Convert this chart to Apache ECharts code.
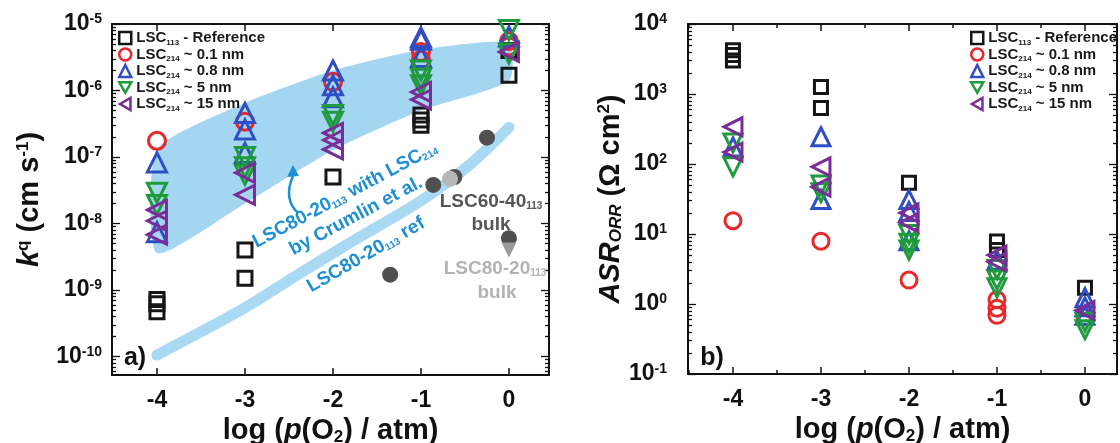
<!DOCTYPE html>
<html>
<head>
<meta charset="utf-8">
<script src="https://cdn.jsdelivr.net/npm/echarts@6/dist/echarts.min.js"></script>
<style>
  html, body { margin: 0; padding: 0; background: #fff; }
  #chart { width: 1120px; height: 443px; }
</style>
</head>
<body>
<div id="chart"></div>
<script>
// x = log(pO2 / atm)
// panel a) surface exchange coefficient k^q (cm/s)
const kRef = [[-4, 7.2e-10], [-4, 6.2e-10], [-4, 4.7e-10], [-3, 4.0e-9], [-3, 1.5e-9], [-2, 5.0e-8],
  [-1, 4.3e-7], [-1, 3.6e-7], [-1, 3.0e-7], [0, 4.0e-6], [0, 1.7e-6]]
const k01 = [[-4, 1.75e-7], [-3, 3.4e-7], [-2, 1.35e-6], [-1, 3.8e-6], [-1, 2.9e-6], [0, 5.5e-6], [0, 4.6e-6]]
const k08 = [[-4, 8.3e-8], [-4, 7.4e-9], [-3, 4.6e-7], [-3, 2.6e-7], [-3, 1.15e-7], [-2, 2.0e-6], [-2, 1.2e-6],
  [-2, 7.9e-7], [-1, 6.3e-6], [-1, 5.8e-6], [-1, 3.2e-6], [0, 6.5e-6]]
const k5 = [[-4, 2.9e-8], [-4, 1.9e-8], [-3, 1.0e-7], [-3, 7.0e-8], [-3, 5.4e-8], [-2, 4.3e-7], [-2, 3.4e-7],
  [-1, 2.0e-6], [-1, 1.5e-6], [-1, 1.2e-6], [0, 8.1e-6], [0, 3.6e-6]]
const k15 = [[-4, 1.6e-8], [-4, 1.1e-8], [-4, 6.8e-9], [-3, 5.8e-8], [-3, 2.7e-8], [-2, 2.3e-7], [-2, 1.8e-7],
  [-2, 1.3e-7], [-1, 9.5e-7], [-1, 7.3e-7], [0, 3.8e-6]]
const kBulk6040 = [[-1.35, 1.7e-9], [-0.86, 3.8e-8], [-0.62, 5.0e-8], [-0.25, 1.95e-7], [0, 6.0e-9]]
const kBulk8020 = [[-0.67, 4.7e-8]]
const kBulk8020Tri = [[0, 4.0e-9]]
const refBand = [[-4, 1.05e-10], [-3, 5.4e-10], [-2.4, 1.7e-9], [-1.8, 5.2e-9], [-1, 2.2e-8], [-0.45, 7.6e-8], [0, 2.8e-7]]
const crumlinUpper = [[-4, 1.29e-7], [-3, 6.5e-7], [-2, 2.0e-6], [-1, 4.1e-6], [0, 5.2e-6]]
const crumlinLower = [[-4, 3.6e-9], [-3, 2.0e-8], [-2, 1.26e-7], [-1, 5.0e-7], [0, 1.4e-6]]

// panel b) ASR_ORR (Ohm cm2)
const asrRef = [[-4, 4200], [-4, 3600], [-4, 3000], [-3, 1260], [-3, 630], [-2, 54], [-1, 7.8], [-1, 5.9], [0, 1.7]]
const asr01 = [[-4, 15.5], [-3, 7.9], [-2, 2.2], [-1, 1.15], [-1, 0.87], [-1, 0.69], [0, 0.65]]
const asr08 = [[-4, 175], [-3, 245], [-3, 31], [-2, 31], [-2, 21], [-2, 8], [-1, 4.2], [0, 1.23], [0, 0.91], [0, 0.69]]
const asr5 = [[-4, 200], [-4, 91], [-3, 50], [-3, 39], [-2, 9.8], [-2, 7.4], [-2, 5.9], [-1, 3.1], [-1, 2.2], [-1, 1.7],
  [0, 0.55], [0, 0.43]]
const asr15 = [[-4, 340], [-4, 148], [-3, 91], [-3, 47], [-2, 20], [-2, 14.5], [-1, 5.0], [-1, 4.0], [0, 0.81]]

const xTicks = [-4, -3, -2, -1, 0]
const xMinorTicks = [-4.5, -3.5, -2.5, -1.5, -0.5]
const kDecades = [-10, -9, -8, -7, -6, -5]
const asrDecades = [-1, 0, 1, 2, 3, 4]
const sampleNames = ['LSC113 - Reference', 'LSC214 ~ 0.1 nm', 'LSC214 ~ 0.8 nm', 'LSC214 ~ 5 nm', 'LSC214 ~ 15 nm']

const FONT = '"Liberation Sans", Arial, sans-serif'
const INK = '#111'
const colors = ['#161616', '#e8282a', '#2f4ec4', '#1f9a3c', '#7b2d97']
const symbols = ['rect', 'circle', 'triangle', 'triangle', 'triangle']
const rotations = [0, 0, 0, 180, 90]
const legendIcons = ['rect', 'circle', 'triangle', 'path://M0,0L10,0L5,8.66Z', 'path://M8.66,0L8.66,10L0,5Z']

const lg = v => Math.log10(v)
const toLog = arr => arr.map(p => [p[0], lg(p[1])])

function minors(lo, hi) {
  const out = []
  for (let n = Math.floor(lo); n < Math.ceil(hi); n++) {
    for (let k = 2; k <= 9; k++) {
      const v = n + Math.log10(k)
      if (v > lo && v < hi) out.push(v)
    }
  }
  return out
}

const supRich = {
  b: { fontSize: 23, fontWeight: 'bold', fontFamily: FONT, color: INK },
  s: { fontSize: 14, fontWeight: 'bold', fontFamily: FONT, color: INK, verticalAlign: 'top' }
}
const titleRich = {
  t: { fontSize: 29, fontWeight: 'bold', fontFamily: FONT, color: INK },
  i: { fontSize: 29, fontWeight: 'bold', fontStyle: 'italic', fontFamily: FONT, color: INK },
  sub: { fontSize: 17, fontWeight: 'bold', fontFamily: FONT, color: INK, verticalAlign: 'bottom' },
  isub: { fontSize: 17, fontWeight: 'bold', fontStyle: 'italic', fontFamily: FONT, color: INK, verticalAlign: 'bottom' },
  sup: { fontSize: 17, fontWeight: 'bold', fontFamily: FONT, color: INK, verticalAlign: 'top' }
}

function xAx(grid, min, max, pos, ticks, len, labels, name) {
  return {
    type: 'value', gridIndex: grid, min, max, position: pos,
    axisLine: { show: true, onZero: false, lineStyle: { color: INK, width: 2 } },
    axisTick: { show: true, inside: true, length: len, customValues: ticks, lineStyle: { color: INK, width: 1.5 } },
    axisLabel: labels ? {
      show: true, customValues: ticks, margin: 14, color: INK,
      fontSize: 23, fontWeight: 'bold', fontFamily: FONT,
      formatter: v => String(Math.round(v))
    } : { show: false },
    splitLine: { show: false },
    name: name || '', nameLocation: 'middle', nameGap: 38,
    nameTextStyle: { rich: titleRich }
  }
}

function yAx(grid, min, max, pos, ticks, len, labels, margin, name, gap) {
  return {
    type: 'value', gridIndex: grid, min, max, position: pos,
    axisLine: { show: true, onZero: false, lineStyle: { color: INK, width: 2 } },
    axisTick: { show: true, inside: true, length: len, customValues: ticks, lineStyle: { color: INK, width: 1.3 } },
    axisLabel: labels ? {
      show: true, customValues: ticks, margin, rich: supRich,
      formatter: v => '{b|10}{s|' + Math.round(v) + '}'
    } : { show: false },
    splitLine: { show: false },
    name: name || '', nameLocation: 'middle', nameRotate: 90, nameGap: gap || 0,
    nameTextStyle: { rich: titleRich }
  }
}

const aMin = -10.278, aMax = -5, bMin = -1, bMax = 4
const xaMin = -4.511, xaMax = 0.455, xbMin = -4.511, xbMax = 0.364
const xTitle = '{t|log (}{i|p}{t|(O}{sub|2}{t|) / atm)}'

const xAxes = [
  xAx(0, xaMin, xaMax, 'bottom', xTicks, 7, true, xTitle),
  xAx(0, xaMin, xaMax, 'top', xTicks, 7, false),
  xAx(1, xbMin, xbMax, 'bottom', xTicks, 7, true, xTitle),
  xAx(1, xbMin, xbMax, 'top', xTicks, 7, false),
  xAx(1, xbMin, xbMax, 'bottom', xMinorTicks, 4, false),
  xAx(1, xbMin, xbMax, 'top', xMinorTicks, 4, false)
]
const yAxes = [
  yAx(0, aMin, aMax, 'left', kDecades, 8, true, 10, '{i|k}{sup|q}{t| (cm s}{sup|-1}{t|)}', 68),
  yAx(0, aMin, aMax, 'left', minors(aMin, aMax), 4, false),
  yAx(0, aMin, aMax, 'right', kDecades, 8, false),
  yAx(0, aMin, aMax, 'right', minors(aMin, aMax), 4, false),
  yAx(1, bMin, bMax, 'left', asrDecades, 8, true, 21, '{i|ASR}{isub|ORR}{t| (Ω cm}{sup|2}{t|)}', 50),
  yAx(1, bMin, bMax, 'left', minors(bMin, bMax), 4, false),
  yAx(1, bMin, bMax, 'right', asrDecades, 8, false),
  yAx(1, bMin, bMax, 'right', minors(bMin, bMax), 4, false)
]

function sampleSeries(i, data, xi, yi, big) {
  const sizes = big ? [14, 17, 19, 19, 19] : [13, 16, 18, 18, 18]
  return {
    type: 'scatter', name: sampleNames[i], xAxisIndex: xi, yAxisIndex: yi,
    symbol: symbols[i], symbolRotate: rotations[i], symbolSize: sizes[i],
    itemStyle: { color: 'rgba(255,255,255,0)', borderColor: colors[i], borderWidth: 3, opacity: 1 },
    emphasis: { disabled: true },
    z: 5 + i,
    data: toLog(data)
  }
}

const bandColor = '#a4d6f2'
const series = [
  {
    type: 'custom', name: 'crumlin', xAxisIndex: 0, yAxisIndex: 0, silent: true, z: 1,
    data: [[0, 0]],
    renderItem: (params, api) => {
      const pts = crumlinUpper.map(p => api.coord([p[0], lg(p[1])]))
        .concat(crumlinLower.slice().reverse().map(p => api.coord([p[0], lg(p[1])])))
      return { type: 'polygon', shape: { points: pts, smooth: 0.2 }, style: { fill: bandColor } }
    }
  },
  {
    type: 'line', name: 'ref', xAxisIndex: 0, yAxisIndex: 0, smooth: 0.3, symbol: 'none', silent: true, z: 2,
    lineStyle: { color: '#a9d9f3', width: 11, cap: 'round' },
    data: toLog(refBand)
  },
  {
    type: 'scatter', name: 'bulk6040', xAxisIndex: 0, yAxisIndex: 0, symbol: 'circle', symbolSize: 16, z: 3,
    itemStyle: { color: '#505050', opacity: 1 }, data: toLog(kBulk6040)
  },
  {
    type: 'scatter', name: 'bulk8020', xAxisIndex: 0, yAxisIndex: 0, symbol: 'circle', symbolSize: 16, z: 4,
    itemStyle: { color: '#b8b8b8', opacity: 1 }, data: toLog(kBulk8020)
  },
  {
    type: 'scatter', name: 'bulk8020tri', xAxisIndex: 0, yAxisIndex: 0, symbol: 'triangle', symbolRotate: 180,
    symbolSize: 15, z: 4, itemStyle: { color: '#9a9a9a', opacity: 1 }, data: toLog(kBulk8020Tri)
  },
  sampleSeries(0, kRef, 0, 0, true),
  sampleSeries(2, k08, 0, 0, true),
  sampleSeries(4, k15, 0, 0, true),
  sampleSeries(3, k5, 0, 0, true),
  sampleSeries(1, k01, 0, 0, true),
  sampleSeries(0, asrRef, 2, 4, false),
  sampleSeries(2, asr08, 2, 4, false),
  sampleSeries(4, asr15, 2, 4, false),
  sampleSeries(3, asr5, 2, 4, false),
  sampleSeries(1, asr01, 2, 4, false)
]

const legendRich = {
  m: { fontSize: 15, fontWeight: 'bold', fontFamily: FONT, color: '#1a1a1a', lineHeight: 17 },
  u: { fontSize: 8, fontWeight: 'bold', fontFamily: FONT, color: '#1a1a1a', verticalAlign: 'bottom', lineHeight: 17 }
}
function legend(left) {
  return {
    data: sampleNames.map((n, i) => ({ name: n, icon: legendIcons[i] })),
    left, top: 30.5, orient: 'vertical', padding: 0,
    itemWidth: 12, itemHeight: 12, itemGap: 0.5,
    itemStyle: { borderWidth: 2.5 },
    selectedMode: false,
    formatter: n => n.replace(/^LSC(\d+)(.*)$/, '{m|LSC}{u|$1}{m|$2}'),
    textStyle: { rich: legendRich }
  }
}

const blue = '#1f8fd3'
const annRich = {
  m: { fontSize: 19, fontWeight: 'bold', fontFamily: FONT, fill: blue },
  u: { fontSize: 10, fontWeight: 'bold', fontFamily: FONT, fill: blue, verticalAlign: 'bottom' },
  g: { fontSize: 19, fontWeight: 'bold', fontFamily: FONT, fill: '#555' },
  gu: { fontSize: 10, fontWeight: 'bold', fontFamily: FONT, fill: '#555', verticalAlign: 'bottom' },
  l: { fontSize: 19, fontWeight: 'bold', fontFamily: FONT, fill: '#b3b3b3' },
  lu: { fontSize: 10, fontWeight: 'bold', fontFamily: FONT, fill: '#b3b3b3', verticalAlign: 'bottom' },
  p: { fontSize: 25, fontWeight: 'bold', fontFamily: FONT, fill: INK }
}
function label(x, y, text, deg) {
  return {
    type: 'text', x, y, rotation: (deg || 0) * Math.PI / 180, z: 20,
    style: { text, rich: annRich, align: 'center', verticalAlign: 'middle' }
  }
}

const chart = echarts.init(document.getElementById('chart'))
chart.setOption({
  animation: false,
  backgroundColor: '#fff',
  grid: [
    { left: 112, top: 24, width: 437, height: 351, outerBoundsMode: 'none' },
    { left: 688, top: 24, width: 429, height: 350, outerBoundsMode: 'none' }
  ],
  xAxis: xAxes,
  yAxis: yAxes,
  legend: [legend(118), legend(970)],
  series,
  graphic: [
    label(345, 195, '{m|LSC80-20}{u|113}{m| with LSC}{u|214}', 28),
    label(356, 216, '{m|by Crumlin et al.}', 28),
    label(366, 255, '{m|LSC80-20}{u|113}{m| ref}', 30),
    label(491, 202, '{g|LSC60-40}{gu|113}'),
    label(491, 225, '{g|bulk}'),
    label(495, 269, '{l|LSC80-20}{lu|113}'),
    label(497, 293, '{l|bulk}'),
    label(135, 358, '{p|a)}'),
    label(712, 358, '{p|b)}'),
    {
      type: 'bezierCurve', z: 20,
      shape: { x1: 298, y1: 213, x2: 293, y2: 176, cpx1: 283, cpy1: 199 },
      style: { stroke: blue, lineWidth: 2.5, fill: null }
    },
    {
      type: 'polygon', z: 20,
      shape: { points: [[293, 165], [287, 177], [299, 176]] },
      style: { fill: blue }
    }
  ]
})
</script>
</body>
</html>
